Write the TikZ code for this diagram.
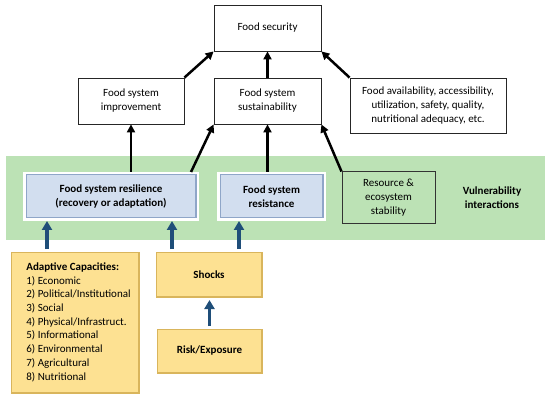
\documentclass[tikz,border=0pt]{standalone}
\usepackage{fontspec}
\setmainfont{Carlito}
\usetikzlibrary{arrows.meta,shadows}
\definecolor{bandgreen}{HTML}{BCE2B5}
\definecolor{bluefill}{HTML}{D2DEEF}
\definecolor{blueedge}{HTML}{8FA6C8}
\definecolor{yelfill}{HTML}{FDE192}
\definecolor{yeledge}{HTML}{D9B55C}
\definecolor{navy}{HTML}{1F4E79}
\tikzset{every node/.style={font=\fontsize{11}{14}\selectfont, align=center, inner sep=2pt},
    plainbox/.style={draw=black!85, line width=0.8pt, fill=white, minimum height=46pt},
    glowbox/.style={drop shadow={opacity=0.25, shadow xshift=1pt, shadow yshift=-1.5pt},
        preaction={draw=white, line width=6pt}, outer sep=3pt},
    bevel/.style={path picture={\draw[#1, line width=2.5pt]
        (path picture bounding box.south west) -- (path picture bounding box.south east)
        -- (path picture bounding box.north east);}},
    bluebox/.style={glowbox, draw=blueedge, line width=1pt, fill=bluefill, bevel=blueedge,
        font=\fontsize{11}{14}\selectfont\bfseries, minimum height=43pt},
    yelbox/.style={glowbox, draw=yeledge, line width=1pt, fill=yelfill, bevel=yeledge,
        font=\fontsize{11}{14}\selectfont\bfseries},
    up/.style={-{Triangle[width=8pt,length=8pt]}, line width=2.5pt},
    blueup/.style={-{Triangle[width=10pt,length=9pt]}, line width=3.3pt, navy},
    }
\begin{document}
\begin{tikzpicture}[x=1pt,y=-1pt]
\useasboundingbox (0,0) rectangle (550,404);
\fill[bandgreen] (6,156) rectangle (545,240);
% top boxes
\node[plainbox, minimum width=107pt] (security) at (267.5,28) {Food security};
\node[plainbox, minimum width=106pt] (improve) at (131,101) {Food system\\improvement};
\node[plainbox, minimum width=107pt] (sustain) at (267.5,101) {Food system\\sustainability};
\node[plainbox, minimum width=156pt, minimum height=55pt] (avail) at (428,105.5)
    {Food availability, accessibility,\\utilization, safety, quality,\\nutritional adequacy, etc.};
% vulnerability band
\node[bluebox, minimum width=170pt] (resil) at (111,196.5) {Food system resilience\\(recovery or adaptation)};
\node[bluebox, minimum width=103pt] (resist) at (271.5,196.5) {Food system\\resistance};
\node[draw=black!80, line width=1pt, fill=bandgreen, minimum width=93pt, minimum height=52pt]
    (resource) at (388.5,198) {Resource \&\\ecosystem\\stability};
\node[font=\fontsize{11}{14}\selectfont\bfseries] (vuln) at (492,198) {Vulnerability\\interactions};
% drivers
\node[yelbox, font=\fontsize{11}{13.7}\selectfont, minimum width=128pt, minimum height=141pt, inner sep=0pt]
    (adapt) at (75,322.5) {\begin{tabular}{@{\hspace{7pt}}l@{}}
    \textbf{Adaptive Capacities:}\\1) Economic\\2) Political/Institutional\\3) Social\\
    4) Physical/Infrastruct.\\5) Informational\\6) Environmental\\7) Agricultural\\8) Nutritional
    \end{tabular}};
\node[yelbox, minimum width=106pt, minimum height=45pt] (shocks) at (209,274.5) {Shocks};
\node[yelbox, minimum width=105pt, minimum height=44pt] (risk) at (209.5,351) {Risk/Exposure};
% black arrows
\draw[up] (improve.north east) -- (security.south west);
\draw[up] (sustain.north) -- (security.south);
\draw[up] (avail.north west) -- (security.south east);
\draw[up] (resil.north -| improve.south) -- (improve.south);
\draw[up] ([xshift=-8pt]resil.north east) -- (sustain.south west);
\draw[up] (resist.north -| sustain.south) -- (sustain.south);
\draw[up] (resource.north west) -- (sustain.south east);
% blue arrows
\draw[blueup] ([xshift=39pt]adapt.north west) -- ([xshift=39pt]adapt.north west |- resil.south);
\draw[blueup] ([xshift=19pt]shocks.north west) -- ([xshift=19pt]shocks.north west |- resil.south);
\draw[blueup] ([xshift=-26pt]shocks.north east) -- ([xshift=-26pt]shocks.north east |- resist.south);
\draw[blueup] (risk.north) -- (risk.north |- shocks.south);
\end{tikzpicture}
\end{document}
